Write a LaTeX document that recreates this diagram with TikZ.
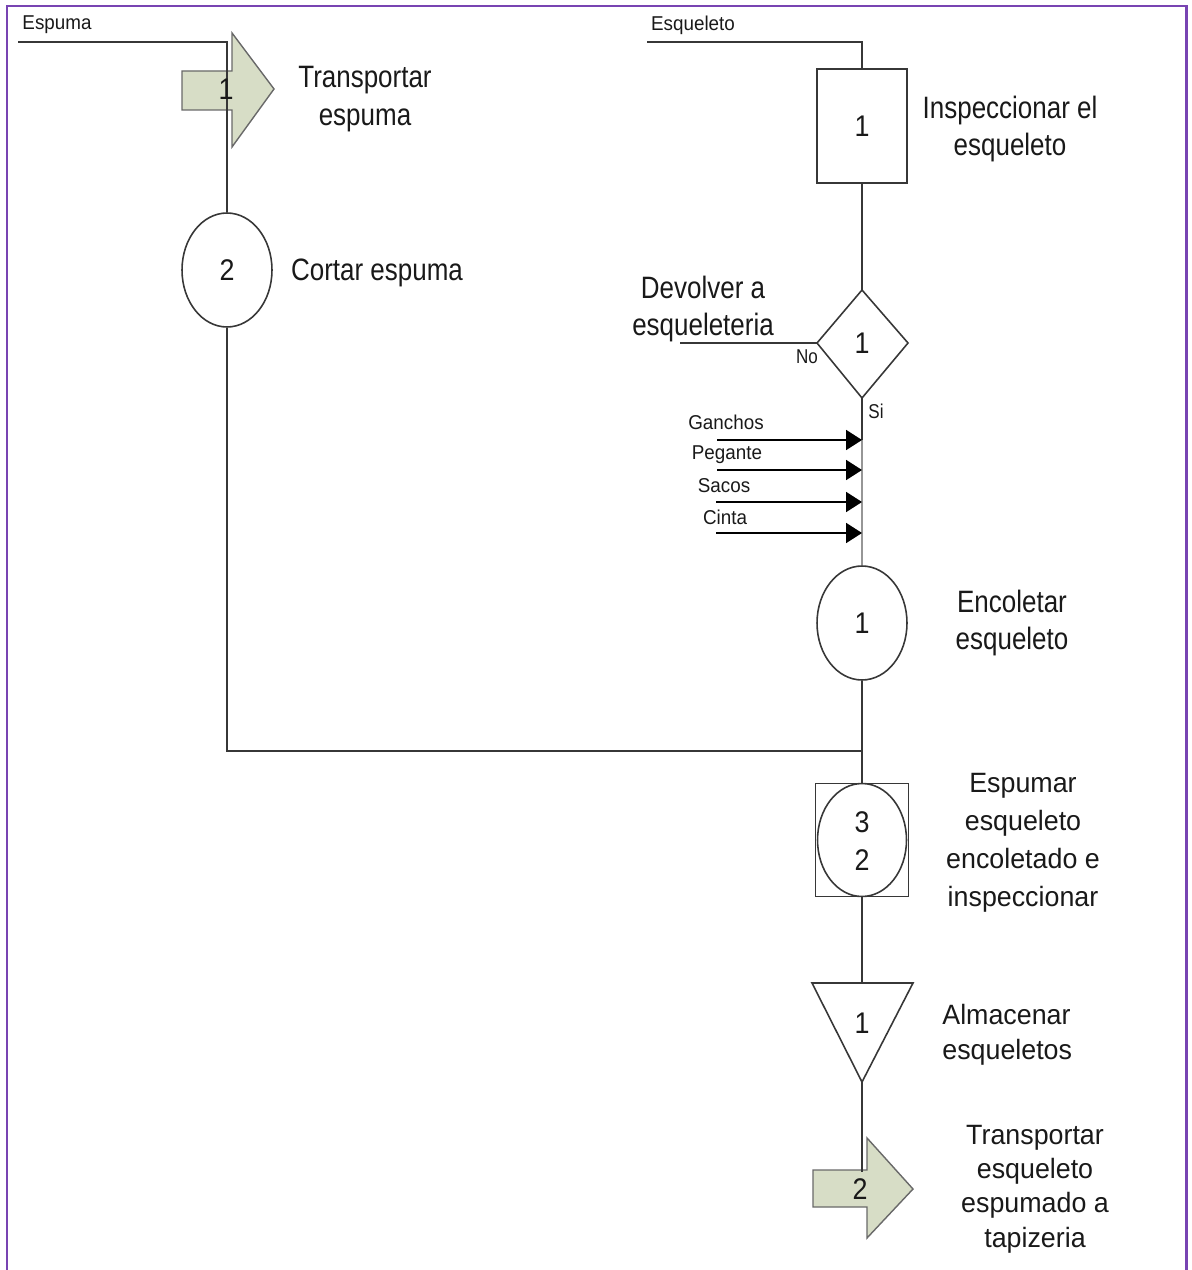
\documentclass[tikz,border=0pt]{standalone}
\usepackage{fontspec}
\setmainfont{Liberation Sans}
\newfontfamily\bigf[FakeStretch=0.84]{Liberation Sans}
\newfontfamily\lowf[FakeStretch=0.96]{Liberation Sans}
\newfontfamily\smallf[FakeStretch=0.94]{Liberation Sans}
\newfontfamily\tinyf[FakeStretch=0.85]{Liberation Sans}
\newfontfamily\numf[FakeStretch=0.9]{Liberation Sans}
\usetikzlibrary{shapes.geometric,arrows.meta}

\definecolor{linec}{RGB}{55,55,55}
\definecolor{lightline}{RGB}{150,150,150}
\definecolor{framec}{RGB}{120,68,178}
\definecolor{arrowfill}{RGB}{215,221,198}
\definecolor{arrowedge}{RGB}{105,105,105}
\definecolor{txt}{RGB}{25,25,25}

\begin{document}
\begin{tikzpicture}[x=0.02cm,y=-0.02cm,
  flow/.style={draw=linec,line width=1.1pt},
  opcircle/.style={ellipse,draw=linec,line width=0.9pt,minimum width=1.8cm,
    minimum height=2.28cm,inner sep=0pt},
  inspbox/.style={rectangle,draw=linec,line width=1.1pt,minimum width=1.8cm,
    minimum height=2.28cm,inner sep=0pt},
  shapeline/.style={draw=linec,line width=0.9pt},
  movearrow/.style={fill=arrowfill,draw=arrowedge,line width=0.8pt},
  numtxt/.style={font=\numf\fontsize{17}{21}\selectfont,text=txt,inner sep=0pt},
  bigtxt/.style={font=\bigf\fontsize{17.6}{21.3}\selectfont,align=center,text=txt,inner sep=0pt},
  lowtxt/.style={font=\lowf\fontsize{15.9}{21.6}\selectfont,align=center,text=txt,inner sep=0pt},
  smalltxt/.style={font=\smallf\fontsize{11.4}{13}\selectfont,text=txt,inner sep=0pt},
  yntxt/.style={font=\tinyf\fontsize{11.4}{13}\selectfont,text=txt,inner sep=0pt},
  feed/.style={draw=black,line width=1pt,-{Triangle[length=9.1pt,width=11.4pt]}}
]
\useasboundingbox (0,0) rectangle (1191,1270);

% frame
\draw[framec,line width=1.7pt] (7,1272) -- (7,6) -- (1186,6) -- (1186,1272);

% ---------- foam branch ----------
\node[smalltxt] (espLbl) at (57,25) {Espuma};
\coordinate (espIn) at (18,42);

% transport arrow 1
\path[movearrow] (182,71) -- (232,71) -- (232,33) -- (274,89) -- (232,147)
  -- (232,110) -- (182,110) -- cycle;

\node[opcircle] (cut) at (227,270) {};
\draw[flow] (espIn) -| (cut.north);
\node[numtxt] (t1num) at (226,89) {1};
\node[bigtxt] (t1lbl) at (365,99) {Transportar\\espuma};

\node[numtxt] (cutnum) at (227,270) {2};
\node[bigtxt] (cutlbl) at (377,273) {Cortar espuma};

% ---------- skeleton branch ----------
\node[smalltxt] (esqLbl) at (693,25) {Esqueleto};
\coordinate (esqIn) at (647,42);

\node[inspbox] (insp) at (862,126) {};
\node[numtxt] (inspnum) at (862,126) {1};
\node[bigtxt] (insplbl) at (1010,129) {Inspeccionar el\\esqueleto};
\draw[flow] (esqIn) -| (insp.north);

% decision
\coordinate (dtop) at (862,290);
\coordinate (dright) at (908,343);
\coordinate (dbot) at (862,398);
\coordinate (dleft) at (817,343);
\path[shapeline] (dtop) -- (dright) -- (dbot) -- (dleft) -- cycle;
\node[numtxt] (decnum) at (862,343) {1};
\draw[flow] (insp.south) -- (dtop);

\coordinate (devEnd) at (680,343);
\draw[flow] (dleft) -- (devEnd);
\node[bigtxt] (devlbl) at (703,309) {Devolver a\\esqueleteria};
\node[yntxt] (nolbl) at (807,357) {No};
\node[yntxt] (silbl) at (876,411) {Si};

% material inputs
\node[opcircle] (enc) at (862,623) {};
\coordinate (gT) at (862,440);
\coordinate (pT) at (862,470);
\coordinate (sT) at (862,502);
\coordinate (cT) at (862,533);
\draw[flow] (dbot) -- (gT);
\draw[draw=lightline,line width=1.1pt] (gT) -- (enc.north);

\coordinate (gIn) at (717,440);
\coordinate (pIn) at (717,470);
\coordinate (sIn) at (716,502);
\coordinate (cIn) at (716,533);
\draw[feed] (gIn) -- (gT);
\draw[feed] (pIn) -- (pT);
\draw[feed] (sIn) -- (sT);
\draw[feed] (cIn) -- (cT);
\node[smalltxt] (glbl) at (726,422) {Ganchos};
\node[smalltxt] (plbl) at (727,455) {Pegante};
\node[smalltxt] (slbl) at (724,486) {Sacos};
\node[smalltxt] (clbl) at (725,517) {Cinta};

% encoletar
\node[numtxt] (encnum) at (862,623) {1};
\node[bigtxt] (enclbl) at (1012,623) {Encoletar\\esqueleto};

% junction of both branches
\coordinate (join) at (862,751);
\draw[flow] (cut.south) |- (join);

% combined operation / inspection
\node[inspbox,minimum width=1.86cm,minimum height=2.26cm] (comb) at (862,840) {};
\node[opcircle,minimum width=1.78cm,minimum height=2.26cm] (combc) at (862,840) {};
\node[numtxt,align=center,font=\numf\fontsize{17}{21.2}\selectfont] (combnum) at (862,841) {3\\2};
\draw[flow] (enc.south) -- (comb.north);
\node[lowtxt] (comblbl) at (1023,843) {Espumar\\esqueleto\\encoletado e\\inspeccionar};

% storage
\coordinate (ttl) at (812,983);
\coordinate (ttr) at (913,983);
\coordinate (tbot) at (862,1082);
\coordinate (ttop) at (862,983);
\path[shapeline] (ttl) -- (ttr) -- (tbot) -- cycle;
\node[numtxt] (stnum) at (862,1023) {1};
\draw[flow] (comb.south) -- (ttop);
\node[lowtxt,align=left,anchor=west,font=\lowf\fontsize{15.9}{19.9}\selectfont] (stlbl) at (942,1035) {Almacenar\\esqueletos};

% transport arrow 2
\path[movearrow] (813,1170) -- (867,1170) -- (867,1138) -- (913,1189) -- (867,1238)
  -- (867,1207) -- (813,1207) -- cycle;
\coordinate (a2top) at (862,1172);
\draw[flow] (tbot) -- (a2top);
\node[numtxt] (t2num) at (860,1189) {2};
\node[lowtxt,font=\lowf\fontsize{15.9}{19.5}\selectfont] (t2lbl) at (1035,1189) {Transportar\\esqueleto\\espumado a\\tapizeria};

\end{tikzpicture}
\end{document}
